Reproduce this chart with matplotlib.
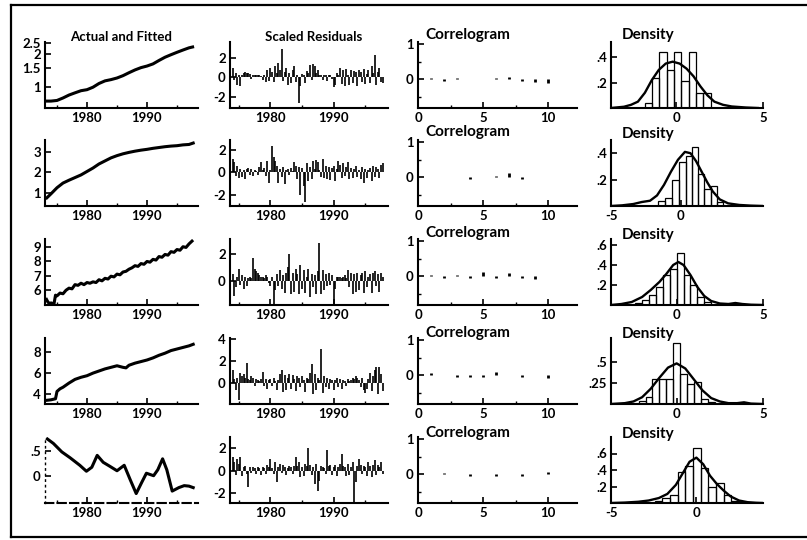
import numpy as np
import pandas as pd
import matplotlib
matplotlib.use("Agg")
import matplotlib.pyplot as plt
from matplotlib.lines import Line2D
from matplotlib.ticker import NullLocator, FixedLocator

plt.rcParams['font.family'] = ['Lato', 'DejaVu Sans']
plt.rcParams['font.weight'] = 'bold'
plt.rcParams['axes.unicode_minus'] = False

# ---------------- data ----------------
quarters = pd.period_range('1974Q1', '1997Q4', freq='Q')

# Actual and Fitted
af_years_1 = [1973.2, 1974, 1975, 1976, 1977, 1978, 1979, 1980, 1981, 1982, 1983, 1984, 1985,
              1986, 1987, 1988, 1989, 1990, 1991, 1992, 1993, 1994, 1995, 1996, 1997, 1997.6]
af_vals_1 = [0.75, 0.75, 0.76, 0.80, 0.85, 0.89, 0.93, 0.95, 1.00, 1.08, 1.14, 1.17, 1.21,
             1.27, 1.35, 1.43, 1.50, 1.55, 1.62, 1.74, 1.86, 1.96, 2.06, 2.16, 2.26, 2.30]

af_years_2 = [1973.3, 1974, 1975, 1976, 1977, 1978, 1979, 1980, 1981, 1982, 1983, 1984, 1985,
              1986, 1987, 1988, 1989, 1990, 1991, 1992, 1993, 1994, 1995, 1996, 1997, 1997.7]
af_vals_2 = [0.75, 0.95, 1.25, 1.48, 1.62, 1.75, 1.88, 2.05, 2.22, 2.42, 2.57, 2.72, 2.83,
             2.92, 2.99, 3.05, 3.10, 3.14, 3.19, 3.23, 3.27, 3.30, 3.32, 3.36, 3.38, 3.45]

af_years_3 = [1973.25, 1973.5, 1973.75, 1974.0, 1974.5, 1974.75, 1975.0, 1975.5, 1976.0, 1976.5,
              1977.0, 1977.5, 1978.0, 1978.5, 1979.0, 1979.5, 1980.0, 1980.5, 1981.0, 1981.5,
              1982.0, 1982.5, 1983.0, 1983.5, 1984.0, 1984.5, 1985.0, 1985.5, 1986.0, 1986.5,
              1987.0, 1987.5, 1988.0, 1988.5, 1989.0, 1989.5, 1990.0, 1990.5, 1991.0, 1991.5,
              1992.0, 1992.5, 1993.0, 1993.5, 1994.0, 1994.5, 1995.0, 1995.5, 1996.0, 1996.5,
              1997.0, 1997.5]
af_vals_3 = [5.3, 5.1, 5.0, 5.05, 4.98, 5.6, 5.55, 5.75, 5.7, 5.95,
             6.1, 6.05, 6.35, 6.3, 6.45, 6.35, 6.5, 6.45, 6.55, 6.5,
             6.7, 6.62, 6.8, 6.75, 6.95, 6.9, 7.1, 7.05, 7.25, 7.3,
             7.45, 7.55, 7.7, 7.65, 7.85, 7.8, 8.0, 7.95, 8.15, 8.1,
             8.35, 8.3, 8.5, 8.45, 8.7, 8.65, 8.85, 8.8, 9.05, 9.0,
             9.25, 9.45]

af_years_4 = [1973.25, 1974, 1974.75, 1975.0, 1975.5, 1976, 1977, 1978, 1979, 1980, 1981, 1982,
              1983, 1984, 1985, 1986, 1986.5, 1987, 1988, 1989, 1990, 1991, 1992, 1993, 1994,
              1995, 1996, 1997, 1997.7]
af_vals_4 = [3.35, 3.4, 3.5, 4.2, 4.45, 4.6, 5.0, 5.35, 5.55, 5.7, 5.95, 6.15,
             6.35, 6.5, 6.65, 6.5, 6.45, 6.7, 6.9, 7.05, 7.2, 7.4, 7.65, 7.85, 8.1,
             8.25, 8.4, 8.55, 8.7]

af_years_5 = [1973.4, 1974.4, 1975.8, 1977.2, 1978.8, 1979.9, 1980.8, 1981.7, 1982.7, 1983.8,
              1985.0, 1986.2, 1987.2, 1988.2, 1989.1, 1989.9, 1991.1, 1991.8, 1992.6, 1993.3,
              1994.2, 1995.3, 1996.2, 1997.0, 1997.7]
af_vals_5 = [0.74, 0.65, 0.48, 0.36, 0.21, 0.09, 0.17, 0.41, 0.27, 0.19,
             0.10, 0.21, -0.08, -0.36, -0.14, 0.05, 0.0, 0.12, 0.34, 0.12,
             -0.31, -0.24, -0.20, -0.21, -0.24]

# Scaled residuals, quarterly 1974Q1 - 1997Q4
resid_1 = [1.0, -0.3, 0.5, -0.8, 0.2, -0.9, 0.3, 0.5, 0.6, 0.5, 0.5, 0.4,
           -0.2, 0.3, 0.2, 0.3, 0.3, 0.2, 0.1, -0.3, 0.3, -0.5, 0.8, -0.4,
           1.0, 0.6, -0.5, 1.2, 0.5, 1.5, 0.8, 3.0, -0.4, 0.6, 1.0, -0.8,
           0.5, -0.6, 0.8, 1.2, -0.5, 0.3, -2.7, -0.9, 0.4, 0.2, -0.6, 0.7,
           0.5, 1.3, -0.3, 1.4, 1.2, 0.5, 0.8, 0.3, 0.3, -0.3, 0.3, 0.2,
           -0.4, 0.2, 0.2, -0.2, -1.0, -0.8, 0.5, 0.3, 1.0, -0.7, 0.8, -0.9,
           0.9, 0.3, -0.8, 0.8, -0.6, 0.7, 0.6, -0.9, 0.8, 0.6, -0.5, 0.9,
           -0.7, 0.4, 0.8, -0.6, 1.2, 0.5, 2.3, -0.8, 0.6, 1.0, -0.5, -0.6]
resid_2 = [1.2, 0.9, -0.3, 0.6, -0.5, 0.3, -0.4, 0.2, -0.6, 0.3, 0.4, -0.2,
           0.3, -0.3, 0.2, 0.1, -0.2, 0.5, 0.9, 0.2, 0.4, -0.3, 1.0, -0.9,
           0.2, 2.4, 1.4, 1.0, 0.6, -0.9, 0.3, -0.4, 0.5, -1.0, 0.2, 0.3,
           -0.2, 0.4, 0.1, 0.9, 0.6, -0.6, 0.5, -2.0, 0.4, -1.2, -2.6, 0.8,
           -0.8, 0.5, -0.6, 1.0, 0.3, 1.1, 0.9, 0.2, -0.4, 1.2, -0.5, 0.6,
           -0.6, 0.5, -0.7, 0.4, 0.6, -0.8, 0.3, 1.0, 0.7, -0.5, 0.8, -0.3,
           0.5, 0.9, -0.6, 0.4, -0.5, 0.3, 0.6, -0.4, 0.2, -0.6, 0.5, -0.9,
           0.3, -0.5, 0.2, 0.4, -0.8, 0.6, -0.4, 0.5, 0.3, -0.5, 0.7, 0.8]
resid_3 = [0.5, -1.1, -0.5, 0.3, 0.9, -0.3, 0.4, -0.6, 0.3, -0.4, 0.2, 0.3,
           0.2, 1.7, 0.9, 0.7, 0.6, 0.4, 0.3, 0.3, 0.2, 0.4, 0.3, -0.2,
           -0.4, 0.3, -1.9, -0.7, 0.5, -0.4, 0.8, -0.6, 0.4, -0.9, 0.6, 1.0,
           2.0, -1.0, 0.6, -0.8, 0.9, 0.5, -1.0, 1.2, -0.6, 0.8, -0.9, 0.3,
           0.9, -1.2, 0.5, -0.5, 0.4, -1.0, 0.7, 2.8, -1.0, 0.8, -0.7, 0.5,
           -0.4, 0.6, -0.3, 0.4, -1.9, -0.6, 0.3, 0.3, 0.3, 0.2, 0.3, 0.4,
           0.2, 0.8, -0.5, 0.6, -1.0, 0.5, -0.8, 0.6, -0.7, 0.4, 0.6, -0.9,
           0.7, -0.5, 0.3, 0.5, -0.9, 0.6, 0.7, -0.4, 0.5, -0.8, 0.6, 0.3]
resid_4 = [1.2, 0.4, -0.6, 0.5, -1.5, 0.9, 0.6, 0.8, 0.5, 1.8, 0.4, 0.3,
           0.6, 0.5, -0.3, 0.4, 0.3, 0.2, 0.4, 1.0, -0.3, 0.4, -0.5, 0.3,
           0.4, -0.3, 0.5, 0.2, -0.6, 0.3, 0.8, 1.2, -0.8, 0.7, -0.6, 0.5,
           0.8, -0.5, 0.7, 0.4, -0.7, 0.6, 0.5, -0.4, 0.6, 0.3, -0.8, 0.5,
           0.4, 0.9, 1.7, -1.0, 0.8, -0.6, 0.5, 0.3, 3.1, -0.9, 0.6, -0.4,
           0.5, -0.5, 0.4, 0.3, -0.6, 0.3, 0.5, -0.4, 0.4, -0.5, 0.3, 0.2,
           -0.3, 0.4, 0.2, 0.3, 0.5, 0.4, 0.6, 0.5, 0.3, -0.4, 0.5, -0.6,
           -0.9, -0.5, 0.4, 0.9, -0.7, 0.6, 1.2, 1.5, -1.0, 1.5, 0.8, -0.7]
resid_5 = [1.2, 0.8, -0.4, 1.0, 0.6, 1.2, -0.5, 0.3, 0.4, -0.3, -1.5, 0.3,
           -0.2, 0.3, 0.2, -0.3, 0.3, 0.2, -0.4, 0.3, 0.2, -0.3, 0.5, 0.3,
           1.0, 0.2, -0.3, 0.8, -1.0, 0.3, 0.6, -0.2, 0.5, 0.3, -0.4, 0.2,
           0.4, 0.3, -0.3, 0.4, 1.2, 0.4, 0.8, -0.6, 0.3, -0.5, 0.6, 0.4,
           2.0, 0.5, -0.4, 0.3, -1.2, 0.6, -1.8, -0.9, 0.4, 0.3, 0.2, -0.3,
           1.8, 0.4, 0.5, -0.4, 0.3, 0.5, -0.5, 0.3, 0.6, 1.5, 0.4, 0.3,
           -0.5, 0.6, -0.4, 0.3, 0.8, -2.8, -1.0, 0.4, 1.0, 0.5, -0.3, 0.4,
           0.3, -0.5, 0.8, 0.4, -0.6, 0.5, 0.9, -0.4, 0.5, 0.3, 0.8, -0.3]

# Correlogram, lags 1..10
lags = [1, 2, 3, 4, 5, 6, 7, 8, 9, 10]
acf_1 = [0.04, -0.04, 0.04, 0.0, 0.0, 0.04, 0.06, -0.05, -0.08, -0.1]
acf_2 = [0.0, 0.0, 0.0, -0.05, 0.0, 0.04, 0.12, -0.05, 0.0, 0.0]
acf_3 = [0.04, -0.04, 0.04, -0.05, 0.12, -0.05, 0.1, -0.05, -0.06, 0.0]
acf_4 = [0.06, 0.0, -0.05, -0.05, -0.05, 0.1, 0.0, -0.05, 0.0, -0.06]
acf_5 = [0.0, 0.04, 0.0, -0.04, 0.0, -0.05, 0.0, -0.05, 0.0, 0.08]

# Density: histogram bins / heights and smoothed density curve
hist_edges_1 = [-1.8, -1.38, -0.96, -0.54, -0.12, 0.3, 0.72, 1.14, 1.56, 1.98]
hist_heights_1 = [0.04, 0.24, 0.44, 0.30, 0.44, 0.21, 0.44, 0.12, 0.12]
dens_x_1 = [-3.75, -3.0, -2.6, -2.2, -1.8, -1.4, -1.0, -0.6, -0.2, 0.2, 0.6, 1.0, 1.4,
            1.8, 2.2, 2.7, 3.2, 4.0, 4.7]
dens_y_1 = [0.0, 0.01, 0.025, 0.05, 0.12, 0.22, 0.30, 0.35, 0.365, 0.35, 0.31, 0.25, 0.17,
            0.10, 0.05, 0.025, 0.012, 0.004, 0.0]

hist_edges_2 = [-1.6, -1.1, -0.6, -0.1, 0.35, 0.8, 1.25, 1.7, 2.15, 2.6, 3.05]
hist_heights_2 = [0.04, 0.06, 0.2, 0.33, 0.38, 0.45, 0.24, 0.13, 0.15, 0.03]
dens_x_2 = [-5.0, -4.2, -3.4, -2.8, -2.2, -1.7, -1.2, -0.7, -0.2, 0.3, 0.7, 1.1, 1.5,
            1.9, 2.3, 2.8, 3.4, 4.2, 5.0, 5.9]
dens_y_2 = [0.0, 0.005, 0.015, 0.03, 0.04, 0.08, 0.16, 0.26, 0.35, 0.41, 0.40, 0.34, 0.26,
            0.18, 0.11, 0.05, 0.02, 0.008, 0.003, 0.0]

hist_edges_3 = [-2.4, -2.0, -1.6, -1.2, -0.8, -0.4, 0.0, 0.4, 0.8, 1.2, 1.6, 2.0]
hist_heights_3 = [0.02, 0.05, 0.1, 0.18, 0.3, 0.36, 0.52, 0.3, 0.2, 0.08, 0.03]
dens_x_3 = [-3.8, -3.2, -2.6, -2.0, -1.5, -1.0, -0.6, -0.2, 0.1, 0.4, 0.8, 1.2, 1.6,
            2.0, 2.5, 3.0, 3.4, 3.8, 4.3, 5.0]
dens_y_3 = [0.0, 0.01, 0.03, 0.08, 0.15, 0.23, 0.31, 0.40, 0.43, 0.40, 0.30, 0.18, 0.09,
            0.04, 0.015, 0.01, 0.02, 0.01, 0.003, 0.0]

hist_edges_4 = [-2.2, -1.8, -1.4, -1.0, -0.6, -0.2, 0.2, 0.6, 1.0, 1.4, 1.8, 2.2]
hist_heights_4 = [0.03, 0.08, 0.30, 0.30, 0.30, 0.72, 0.35, 0.24, 0.26, 0.06, 0.02]
dens_x_4 = [-3.8, -3.0, -2.5, -2.0, -1.5, -1.0, -0.5, 0.0, 0.5, 1.0, 1.5, 2.0, 2.5,
            3.0, 3.5, 3.9, 4.3, 5.0]
dens_y_4 = [0.0, 0.01, 0.03, 0.08, 0.18, 0.31, 0.43, 0.48, 0.42, 0.29, 0.16, 0.07, 0.03,
            0.01, 0.01, 0.02, 0.005, 0.0]

hist_edges_5 = [-2.45, -2.0, -1.55, -1.1, -0.65, -0.2, 0.25, 0.7, 1.15, 1.6, 2.05, 2.5]
hist_heights_5 = [0.02, 0.06, 0.1, 0.38, 0.45, 0.67, 0.42, 0.2, 0.24, 0.1, 0.03]
dens_x_5 = [-5.0, -4.2, -3.4, -2.8, -2.2, -1.7, -1.2, -0.8, -0.4, 0.0, 0.4, 0.8, 1.2,
            1.6, 2.0, 2.5, 3.0, 3.5, 3.9]
dens_y_5 = [0.0, 0.005, 0.015, 0.03, 0.06, 0.11, 0.22, 0.36, 0.50, 0.55, 0.47, 0.33, 0.23,
            0.15, 0.08, 0.03, 0.01, 0.003, 0.0]

# axis settings per row
af_ylim = [(0.65, 2.55), (0.35, 3.6), (4.9, 9.6), (3.0, 9.3), (-0.55, 0.78)]
af_ticks = [[1, 1.5, 2, 2.5], [1, 2, 3], [6, 7, 8, 9], [4, 6, 8], [0, 0.5]]
af_labels = [['1', '1.5', '2', '2.5'], ['1', '2', '3'], ['6', '7', '8', '9'],
             ['4', '6', '8'], ['0', '.5']]
res_ylim = [(-3.2, 3.7), (-3.0, 2.9), (-1.8, 3.1), (-1.9, 4.1), (-2.9, 3.0)]
res_ticks = [[-2, 0, 2], [-2, 0, 2], [0, 2], [0, 2, 4], [-2, 0, 2]]
dens_xlim = [(-3.75, 5.0), (-5.0, 5.9), (-3.8, 5.0), (-3.8, 5.0), (-5.0, 3.9)]
dens_xticks = [[0, 5], [-5, 0], [0, 5], [0, 5], [-5, 0]]
dens_ylim = [(0, 0.52), (0, 0.5), (0, 0.66), (0, 0.78), (0, 0.8)]
dens_yticks = [[0.2, 0.4], [0.2, 0.4], [0.2, 0.4, 0.6], [0.25, 0.5], [0.2, 0.4, 0.6]]
dens_ylabels = [['.2', '.4'], ['.2', '.4'], ['.2', '.4', '.6'], ['.25', '.5'], ['.2', '.4', '.6']]

af_years = [af_years_1, af_years_2, af_years_3, af_years_4, af_years_5]
af_vals = [af_vals_1, af_vals_2, af_vals_3, af_vals_4, af_vals_5]
resids = [resid_1, resid_2, resid_3, resid_4, resid_5]
acfs = [acf_1, acf_2, acf_3, acf_4, acf_5]
hist_edges = [hist_edges_1, hist_edges_2, hist_edges_3, hist_edges_4, hist_edges_5]
hist_heights = [hist_heights_1, hist_heights_2, hist_heights_3, hist_heights_4, hist_heights_5]
dens_x = [dens_x_1, dens_x_2, dens_x_3, dens_x_4, dens_x_5]
dens_y = [dens_y_1, dens_y_2, dens_y_3, dens_y_4, dens_y_5]

# ---------------- layout (pixels) ----------------
W, H = 807, 540
FS = 9.5
TITLE_FS = 11
col_lr = [(45, 198), (230, 388), (418, 577), (611, 763)]
row_bottom = [108, 206, 305, 404, 503]
AX_H = 66

fig = plt.figure(figsize=(W / 100, H / 100), dpi=100)


def px_axes(left, right, bottom):
    return fig.add_axes([left / W, 1 - bottom / H, (right - left) / W, AX_H / H])


def style(ax):
    for s in ('top', 'right'):
        ax.spines[s].set_visible(False)
    for s in ('left', 'bottom'):
        ax.spines[s].set_linewidth(1.5)
    ax.tick_params(direction='in', length=4, width=1.2, labelsize=FS, pad=3)
    ax.tick_params(which='minor', direction='in', length=2, width=1.0)
    ax.patch.set_alpha(0)


qx = quarters.year + (quarters.quarter - 1) / 4

for r in range(5):
    yb = row_bottom[r]

    # Actual and Fitted
    ax = px_axes(*col_lr[0], yb)
    style(ax)
    if r == 0:
        ax.set_yscale('log')
    if r == 4:
        # faint, broken axes on the last panel of the scan
        ax.spines['left'].set_linestyle((0, (1, 3)))
        ax.spines['left'].set_linewidth(1.0)
        ax.spines['bottom'].set_linestyle((0, (4, 2)))
    ax.plot(af_years[r], af_vals[r], color='k', lw=2.2, solid_joinstyle='round')
    ax.set_xlim(1973.0, 1998.5)
    ax.set_ylim(*af_ylim[r])
    ax.yaxis.set_major_locator(FixedLocator(af_ticks[r]))
    ax.yaxis.set_minor_locator(NullLocator())
    ax.set_yticklabels(af_labels[r])
    ax.set_xticks([1980, 1990])
    ax.xaxis.set_minor_locator(FixedLocator([1975, 1985, 1995]))

    # Scaled Residuals
    ax = px_axes(*col_lr[1], yb)
    style(ax)
    ax.vlines(qx, 0, resids[r], color='k', lw=1.2)
    ax.set_xlim(1973.6, 1998.6)
    ax.set_ylim(*res_ylim[r])
    ax.set_yticks(res_ticks[r])
    ax.set_yticklabels([str(t) for t in res_ticks[r]])
    ax.set_xticks([1980, 1990])
    ax.xaxis.set_minor_locator(FixedLocator([1975, 1985, 1995]))

    # Correlogram
    ax = px_axes(*col_lr[2], yb)
    style(ax)
    ax.vlines(lags, 0, acfs[r], color='k', lw=2.0)
    ax.set_xlim(0, 12.2)
    ax.set_ylim(-0.8, 1.05)
    ax.set_yticks([0, 1])
    ax.set_yticklabels(['0', '1'])
    ax.yaxis.set_minor_locator(FixedLocator([-0.5, 0.5]))
    ax.set_xticks([0, 5, 10])
    ax.xaxis.set_minor_locator(FixedLocator([2.5, 7.5]))

    # Density
    ax = px_axes(*col_lr[3], yb)
    style(ax)
    edges = hist_edges[r]
    ax.bar(edges[:-1], hist_heights[r], width=np.diff(edges), align='edge',
           fill=False, edgecolor='k', lw=0.9)
    ax.plot(dens_x[r], dens_y[r], color='k', lw=1.7, solid_joinstyle='round')
    ax.set_xlim(*dens_xlim[r])
    ax.set_ylim(*dens_ylim[r])
    ax.set_yticks(dens_yticks[r])
    ax.set_yticklabels(dens_ylabels[r])
    ax.set_xticks(dens_xticks[r])
    ax.set_xticklabels([str(t) for t in dens_xticks[r]])

# titles
fig.text(121 / W, 1 - 37 / H, 'Actual and Fitted', ha='center', va='center', fontsize=FS)
fig.text(314 / W, 1 - 37 / H, 'Scaled Residuals', ha='center', va='center', fontsize=FS)
for y in [35, 132, 233, 333, 433]:
    fig.text(425 / W, 1 - y / H, 'Correlogram', ha='left', va='center', fontsize=TITLE_FS)
for y in [35, 134, 235, 334, 434]:
    fig.text(622 / W, 1 - y / H, 'Density', ha='left', va='center', fontsize=TITLE_FS)

# page frame
frame_kw = dict(color='k', lw=1.6, transform=fig.transFigure)
fig.add_artist(Line2D([11 / W, 1], [1 - 5 / H, 1 - 5 / H], **frame_kw))
fig.add_artist(Line2D([11 / W, 1], [1 - 537 / H, 1 - 537 / H], **frame_kw))
fig.add_artist(Line2D([11 / W, 11 / W], [1 - 5 / H, 1 - 537 / H], **frame_kw))

fig.savefig('out.png', dpi=100)
